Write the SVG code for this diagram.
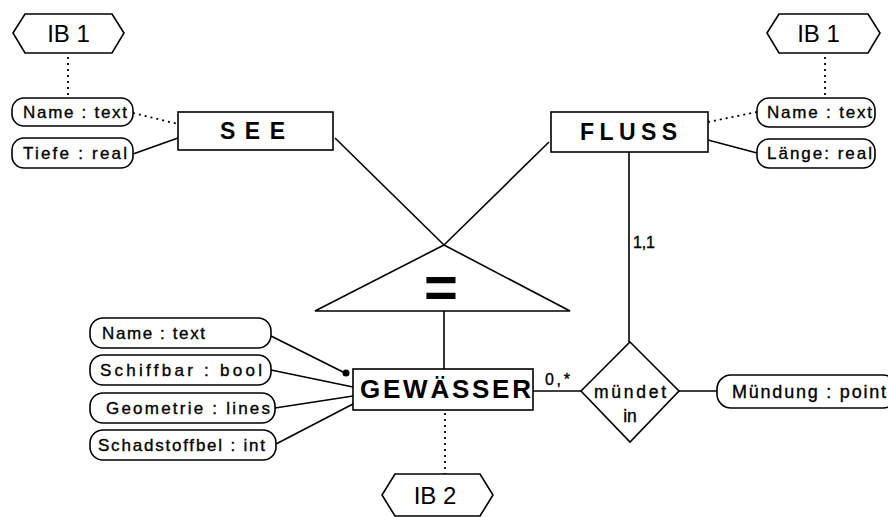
<svg xmlns="http://www.w3.org/2000/svg" width="888" height="517" viewBox="0 0 888 517">
  <style>
    .shape { fill: #fff; stroke: #000; stroke-width: 1.6; }
    .edge { fill: none; stroke: #000; stroke-width: 1.6; }
    .dot { fill: none; stroke: #000; stroke-width: 1.8; stroke-dasharray: 2 4; }
    .attr { font-family: "Liberation Sans", Arial, sans-serif; font-size: 17px; fill: #000; stroke: #000; stroke-width: 0.35; }
    .ent { font-family: "Liberation Sans", Arial, sans-serif; font-weight: bold; fill: #000; }
    .ib { font-family: "Liberation Sans", Arial, sans-serif; font-size: 24px; fill: #000; }
    .lbl { font-family: "Liberation Sans", Arial, sans-serif; font-size: 16px; fill: #000; stroke: #000; stroke-width: 0.35; }
    .rel { font-size: 17.5px; }
    .big { font-size: 18px; }
  </style>

  <!-- connectors -->
  <g id="connectors">
    <line class="dot" x1="68" y1="57" x2="68" y2="96"/>
    <line class="dot" x1="133" y1="113" x2="178" y2="124"/>
    <line class="edge" x1="133" y1="154" x2="178" y2="138"/>
    <line class="dot" x1="825" y1="57" x2="825" y2="96"/>
    <line class="dot" x1="708" y1="122" x2="757" y2="112"/>
    <line class="edge" x1="708" y1="140" x2="757" y2="153"/>
    <line class="edge" x1="335" y1="138" x2="444" y2="245"/>
    <line class="edge" x1="549" y1="142" x2="444" y2="245"/>
    <line class="edge" x1="629" y1="152" x2="629" y2="342"/>
    <line class="edge" x1="444" y1="311" x2="444" y2="369"/>
    <line class="dot" x1="445" y1="413" x2="445" y2="474"/>
    <line class="edge" x1="271" y1="336" x2="345" y2="373"/>
    <line class="edge" x1="271" y1="370" x2="353" y2="387"/>
    <line class="edge" x1="275" y1="408" x2="353" y2="396"/>
    <line class="edge" x1="276" y1="444" x2="353" y2="404"/>
    <line class="edge" x1="533" y1="391" x2="581" y2="391"/>
    <line class="edge" x1="679" y1="391" x2="717" y2="391"/>
    <circle cx="346" cy="373" r="3.5" fill="#000"/>
    <text class="lbl" x="633" y="248" textLength="22" lengthAdjust="spacing">1,1</text>
    <text class="lbl" x="545" y="385" textLength="25" lengthAdjust="spacing">0,*</text>
  </g>

  <!-- integrity references -->
  <g id="ib1-left">
    <polygon class="shape" points="13,33 25,14 112,14 124,33 112,53 25,53"/>
    <text class="ib" x="68.5" y="42" text-anchor="middle">IB 1</text>
  </g>
  <g id="ib1-right">
    <polygon class="shape" points="767,33 779,14 868,14 880,33 868,53 779,53"/>
    <text class="ib" x="818.5" y="42" text-anchor="middle">IB 1</text>
  </g>
  <g id="ib2">
    <polygon class="shape" points="382,495 395,474 480,474 493,495 480,516 395,516"/>
    <text class="ib" x="435" y="504" text-anchor="middle">IB 2</text>
  </g>

  <!-- SEE and its attributes -->
  <g id="see">
    <rect class="shape" x="178" y="112" width="155" height="38"/>
    <text class="ent" x="220" y="139" font-size="23" textLength="65" lengthAdjust="spacing">SEE</text>
  </g>
  <g id="see-name">
    <rect class="shape" x="12" y="98" width="121" height="28" rx="12"/>
    <text class="attr" x="23" y="118" textLength="104" lengthAdjust="spacing">Name : text</text>
  </g>
  <g id="see-tiefe">
    <rect class="shape" x="12" y="138" width="121" height="30" rx="12"/>
    <text class="attr" x="23" y="159" textLength="104" lengthAdjust="spacing">Tiefe : real</text>
  </g>

  <!-- FLUSS and its attributes -->
  <g id="fluss">
    <rect class="shape" x="551" y="112" width="157" height="40"/>
    <text class="ent" x="580" y="140" font-size="23" textLength="97" lengthAdjust="spacing">FLUSS</text>
  </g>
  <g id="fluss-name">
    <rect class="shape" x="757" y="98" width="118" height="29" rx="12"/>
    <text class="attr" x="767" y="118" textLength="105" lengthAdjust="spacing">Name : text</text>
  </g>
  <g id="fluss-laenge">
    <rect class="shape" x="757" y="139" width="118" height="29" rx="12"/>
    <text class="attr" x="767" y="159" textLength="105" lengthAdjust="spacing">Länge: real</text>
  </g>

  <!-- generalisation -->
  <g id="generalisation">
    <polygon class="shape" points="444,245 570,311 315,311"/>
    <text x="441" y="307" text-anchor="middle" font-family="Liberation Sans, Arial, sans-serif" font-weight="bold" font-size="58">=</text>
  </g>

  <!-- GEWÄSSER and its attributes -->
  <g id="gewaesser">
    <rect class="shape" x="353" y="369" width="180" height="41"/>
    <text class="ent" x="360" y="398" font-size="26" textLength="171" lengthAdjust="spacing">GEWÄSSER</text>
  </g>
  <g id="gew-name">
    <rect class="shape" x="90" y="318" width="181" height="30" rx="13"/>
    <text class="attr" x="102" y="339" textLength="103" lengthAdjust="spacing">Name : text</text>
  </g>
  <g id="gew-schiffbar">
    <rect class="shape" x="90" y="355" width="181" height="30" rx="13"/>
    <text class="attr" x="100" y="376" textLength="162" lengthAdjust="spacing">Schiffbar : bool</text>
  </g>
  <g id="gew-geometrie">
    <rect class="shape" x="90" y="393" width="185" height="30" rx="13"/>
    <text class="attr" x="106" y="414" textLength="164" lengthAdjust="spacing">Geometrie : lines</text>
  </g>
  <g id="gew-schadstoff">
    <rect class="shape" x="90" y="430" width="186" height="30" rx="13"/>
    <text class="attr" x="98" y="451" textLength="167" lengthAdjust="spacing">Schadstoffbel : int</text>
  </g>

  <!-- relationship -->
  <g id="muendet-in">
    <polygon class="shape" points="630,342 679,391 630,442 581,391"/>
    <text class="lbl rel" x="594" y="398" textLength="72" lengthAdjust="spacing">mündet</text>
    <text class="lbl rel" x="630" y="422" text-anchor="middle">in</text>
  </g>
  <g id="muendung">
    <rect class="shape" x="717" y="375" width="180" height="33" rx="14"/>
    <text class="attr big" x="732" y="398" textLength="154" lengthAdjust="spacing">Mündung : point</text>
  </g>
</svg>
